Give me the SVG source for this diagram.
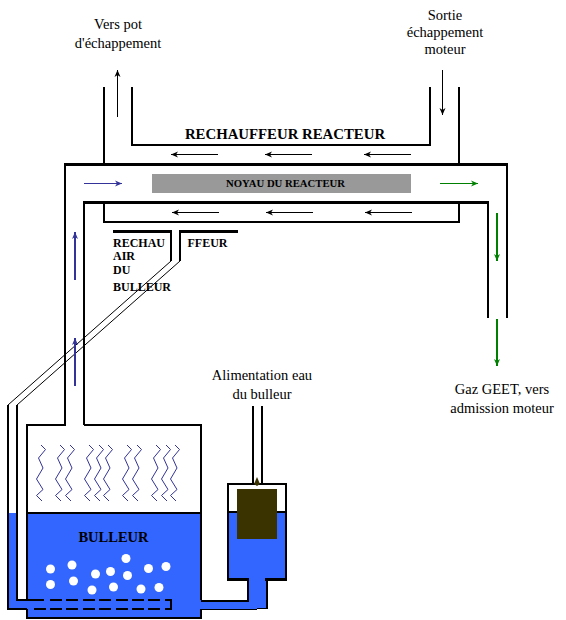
<svg xmlns="http://www.w3.org/2000/svg" width="566" height="620" viewBox="0 0 566 620">
<style>
.w{fill:none;stroke:#000;stroke-width:2;shape-rendering:crispEdges}
.w3{fill:none;stroke:#000;stroke-width:3;shape-rendering:crispEdges}
.w1{fill:none;stroke:#000;stroke-width:1;shape-rendering:crispEdges}
.t{fill:none;stroke:#000;stroke-width:1}
.a{fill:none;stroke-width:1;shape-rendering:crispEdges}
.a2{fill:none;stroke-width:2;shape-rendering:crispEdges}
.k{stroke:#000;marker-end:url(#mk)}
.b{stroke:#333399;marker-end:url(#mb)}
.g{stroke:#008000;marker-end:url(#mg)}
.n{font-family:"Liberation Serif","Times New Roman",serif;font-size:14.500px;fill:#000;text-anchor:middle}
.h{font-family:"Liberation Serif","Times New Roman",serif;font-weight:bold;fill:#000}
.wv{fill:none;stroke:#333399;stroke-width:1}
.bub{fill:#fff}
.water{fill:#3366ff}
</style>
<defs>
<marker id="mk" markerUnits="userSpaceOnUse" markerWidth="10" markerHeight="10" refX="7" refY="4" orient="auto"><path d="M0 1L7 4L0 7L2 4Z" fill="#000"/></marker>
<marker id="mb" markerUnits="userSpaceOnUse" markerWidth="10" markerHeight="10" refX="7" refY="4" orient="auto"><path d="M0 1L7 4L0 7L2 4Z" fill="#333399"/></marker>
<marker id="mg" markerUnits="userSpaceOnUse" markerWidth="10" markerHeight="10" refX="7" refY="4" orient="auto"><path d="M0 1L7 4L0 7L2 4Z" fill="#008000"/></marker>
<path id="wave" d="M0 0L4.500 4.500L-2.500 13L2 23L-4.500 34L2 44.500L-4.500 50.500L1 56"/>
</defs>

<g id="bulleur">
<rect class="water" x="27" y="513" width="174" height="105"/>
<rect class="water" x="8" y="513" width="9" height="96"/>
<rect class="water" x="17" y="600" width="12" height="9"/>
<path class="w" d="M8 405V609H27"/>
<path class="w" d="M17 405V600H44"/>
<path class="w" d="M66 425H27V600M27 609V618H201V609M201 600V425H84"/>
<path class="w" d="M27 513H201"/>
<path class="w" stroke-dasharray="12 4.400" d="M50 600H171"/>
<path class="w" stroke-dasharray="12 4.400" d="M33.600 609H171"/>
<path class="w" d="M171 599V610"/>
<g id="vapeur" class="wv">
<use href="#wave" x="41" y="445"/><use href="#wave" x="60" y="445"/><use href="#wave" x="70" y="445"/>
<use href="#wave" x="89" y="445"/><use href="#wave" x="99" y="445"/><use href="#wave" x="108" y="445"/>
<use href="#wave" x="127" y="445"/><use href="#wave" x="137" y="445"/>
<use href="#wave" x="156" y="445"/><use href="#wave" x="166" y="445"/><use href="#wave" x="175" y="445"/>
</g>
<g id="bulles">
<circle class="bub" cx="50.500" cy="569" r="4.500"/><circle class="bub" cx="72" cy="565" r="4.500"/>
<circle class="bub" cx="95.500" cy="574" r="4.500"/><circle class="bub" cx="110.500" cy="571.500" r="4.500"/>
<circle class="bub" cx="126" cy="558.500" r="4.500"/><circle class="bub" cx="127.500" cy="575.500" r="4.500"/>
<circle class="bub" cx="148.500" cy="568.500" r="4.500"/><circle class="bub" cx="166" cy="566.500" r="4.500"/>
<circle class="bub" cx="50.500" cy="584.500" r="4.500"/><circle class="bub" cx="73.500" cy="581" r="4.500"/>
<circle class="bub" cx="92" cy="590" r="4.500"/><circle class="bub" cx="113.500" cy="587" r="4.500"/>
<circle class="bub" cx="141" cy="589" r="4.500"/><circle class="bub" cx="159" cy="587.500" r="4.500"/>
</g>
<text class="h" x="113.500" y="542" font-size="14.500" text-anchor="middle">BULLEUR</text>
</g>

<g id="alimentation">
<rect class="water" x="228" y="512" width="58" height="67"/>
<rect class="water" x="200" y="600" width="67" height="9"/>
<rect class="water" x="248" y="578" width="19" height="31"/>
<path class="w" d="M253 406V484M262 406V484"/>
<path class="w" d="M228 578V484H286V578"/>
<path class="w3" d="M227 579.500H249M265 579.500H287"/>
<path class="w" d="M228 512H286"/>
<path class="w" d="M201 600.500H249M248 600.500V579M267 579V608"/>
<path class="w1" d="M201 609.500H257M257 608.500H268"/>
<rect x="237" y="489" width="40" height="50" fill="#3a3300"/>
<path d="M257 477L260 484L257 486L254 484Z" fill="#3a3300"/>
<text class="n" x="262" y="380">Alimentation eau</text>
<text class="n" x="262" y="399">du bulleur</text>
</g>

<g id="reacteur">
<path class="w" d="M65 425V164M104 164V87M459 164V87M507 318V164"/>
<path class="w3" d="M64 164.500H508"/>
<path class="w" d="M84 425V203M488 203V318"/>
<path class="w3" d="M83 202.500H489"/>
<rect x="152" y="174" width="259" height="19" fill="#999999"/>
<text class="h" x="285.500" y="187" font-size="10.700" text-anchor="middle">NOYAU DU REACTEUR</text>
</g>

<g id="rechauffeur-reacteur">
<path class="w" d="M132 87V145H430V87"/>
<path class="w" d="M104 203V222H459V203"/>
<text class="h" x="285" y="139" font-size="14.800" text-anchor="middle">RECHAUFFEUR REACTEUR</text>
</g>

<g id="rechauffeur-air">
<path class="w3" d="M113 231.500H172M179 231.500H238"/>
<path class="w" d="M171 231V261M180 231V261"/>
<path class="t" d="M171 261L8 405M180 261L17 405"/>
<text class="h" x="113" y="247" font-size="12">RECHAU</text>
<text class="h" x="187.500" y="247" font-size="12">FFEUR</text>
<text class="h" x="113" y="260" font-size="12">AIR</text>
<text class="h" x="113" y="274" font-size="12">DU</text>
<text class="h" x="113" y="291" font-size="12">BULLEUR</text>
</g>

<g id="labels">
<text class="n" x="118" y="29">Vers pot</text>
<text class="n" x="118" y="48">d'échappement</text>
<text class="n" x="445" y="20">Sortie</text>
<text class="n" x="445" y="37">échappement</text>
<text class="n" x="445" y="54">moteur</text>
<text class="n" x="502" y="394">Gaz GEET, vers</text>
<text class="n" x="502" y="413">admission moteur</text>
</g>

<g id="connectors">
<path class="a k" d="M117.500 117V70"/>
<path class="a k" d="M442.500 70V115"/>
<path class="a k" d="M218 154.500H171"/>
<path class="a k" d="M312 154.500H265"/>
<path class="a k" d="M411 154.500H364"/>
<path class="a k" d="M219 212.500H172"/>
<path class="a k" d="M313 212.500H266"/>
<path class="a k" d="M412 212.500H365"/>
<path class="a b" d="M84 183.500H122"/>
<path class="a g" d="M440 183.500H478"/>
<path class="a2 b" d="M75 280V232"/>
<path class="a2 b" d="M75 386V338"/>
<path class="a2 g" d="M497 213V261"/>
<path class="a2 g" d="M497 319V366"/>
</g>
</svg>
